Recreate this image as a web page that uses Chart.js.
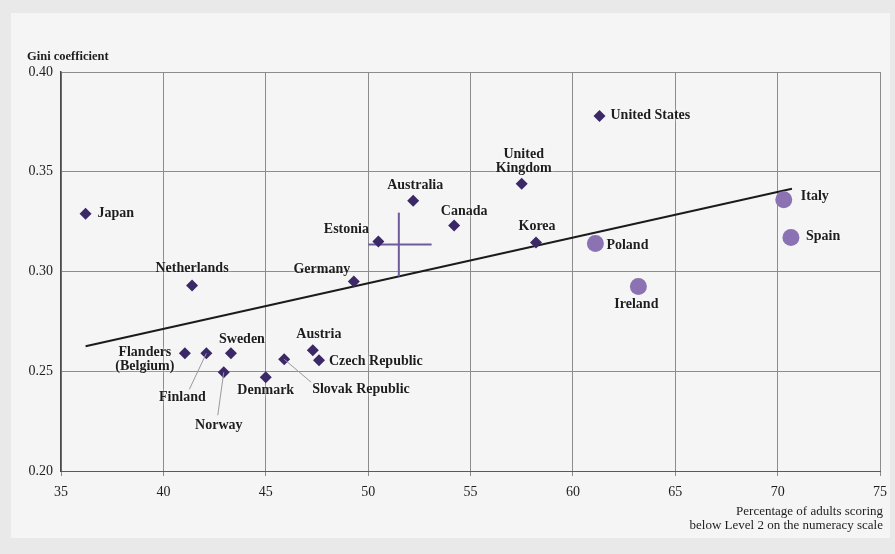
<!DOCTYPE html>
<html>
<head>
<meta charset="utf-8">
<script src="https://cdn.jsdelivr.net/npm/chart.js@4/dist/chart.umd.min.js"></script>
<style>
  html, body { margin: 0; padding: 0; background: #e9e9e9; }
  #wrap { width: 895px; height: 554px; }
</style>
</head>
<body>
<div id="wrap"><canvas id="c" width="895" height="554"></canvas></div>
<script>
// Share of adults below Level 2 in numeracy (%) vs. Gini coefficient
const diamondCountries = ['Japan', 'Netherlands', 'Flanders (Belgium)', 'Finland', 'Sweden', 'Norway',
  'Denmark', 'Slovak Republic', 'Austria', 'Czech Republic', 'Germany', 'Estonia', 'Australia',
  'Canada', 'United Kingdom', 'Korea', 'United States'];
const diamondX = [36.2, 41.4, 41.05, 42.1, 43.3, 42.95, 45.0, 45.9, 47.3, 47.6, 49.3, 50.5, 52.2, 54.2, 57.5, 58.2, 61.3];
const diamondY = [0.329, 0.293, 0.259, 0.259, 0.259, 0.2495, 0.247, 0.256, 0.2605, 0.2555, 0.295, 0.315, 0.3355, 0.323, 0.344, 0.3145, 0.378];

const circleCountries = ['Poland', 'Ireland', 'Italy', 'Spain'];
const circleX = [61.1, 63.2, 70.3, 70.65];
const circleY = [0.314, 0.2925, 0.336, 0.317];

// fitted trend line end points
const trendX = [36.2, 70.7];
const trendY = [0.2625, 0.3415];

// average marker: centre and extent of the two bars
const avgX = 51.5, avgY = 0.3135;
const avgXRange = [50.0, 53.1];
const avgYRange = [0.2975, 0.3295];

const xTicks = [35, 40, 45, 50, 55, 60, 65, 70, 75];
const yTicks = [0.20, 0.25, 0.30, 0.35, 0.40];

// label placement relative to each marker (pixels)
const labelLayout = {
  'Japan':              { dx: 12,  dy: 0,   align: 'left' },
  'Netherlands':        { dx: 0,   dy: -17, align: 'center' },
  'Flanders (Belgium)': { dx: -40, dy: -1,  align: 'center', lines: ['Flanders', '(Belgium)'] },
  'Finland':            { dx: -24, dy: 44,  align: 'center', leader: [-17, 36] },
  'Sweden':             { dx: 11,  dy: -14, align: 'center' },
  'Norway':             { dx: -5,  dy: 53,  align: 'center', leader: [-6, 43] },
  'Denmark':            { dx: 0,   dy: 13,  align: 'center' },
  'Slovak Republic':    { dx: 28,  dy: 30,  align: 'left', leader: [27, 23] },
  'Austria':            { dx: 6,   dy: -16, align: 'center' },
  'Czech Republic':     { dx: 10,  dy: 1,   align: 'left' },
  'Germany':            { dx: -32, dy: -12, align: 'center' },
  'Estonia':            { dx: -32, dy: -12, align: 'center' },
  'Australia':          { dx: 2,   dy: -15, align: 'center' },
  'Canada':             { dx: 10,  dy: -14, align: 'center' },
  'United Kingdom':     { dx: 2,   dy: -29, align: 'center', lines: ['United', 'Kingdom'] },
  'Korea':              { dx: 1,   dy: -16, align: 'center' },
  'United States':      { dx: 11,  dy: 0,   align: 'left' },
  'Poland':             { dx: 11,  dy: 2,   align: 'left' },
  'Ireland':            { dx: -2,  dy: 18,  align: 'center' },
  'Italy':              { dx: 17,  dy: -3,  align: 'left' },
  'Spain':              { dx: 15,  dy: -1,  align: 'left' }
};

const SERIF = '"Liberation Serif", "DejaVu Serif", serif';
const DARK = '#3b2866';
const LIGHT = '#8b72b3';

const zip = (xs, ys) => xs.map((x, i) => ({ x, y: ys[i] }));

const backgroundPlugin = {
  id: 'panel',
  beforeDraw(chart) {
    const ctx = chart.ctx;
    ctx.save();
    ctx.fillStyle = '#e9e9e9';
    ctx.fillRect(0, 0, chart.width, chart.height);
    ctx.fillStyle = '#f5f5f5';
    ctx.fillRect(11, 13, chart.width - 16, 525);
    ctx.restore();
  }
};

const textPlugin = {
  id: 'texts',
  afterDatasetsDraw(chart) {
    const ctx = chart.ctx;
    ctx.save();
    // leader lines
    [[0, diamondCountries], [1, circleCountries]].forEach(([di, names]) => {
      const meta = chart.getDatasetMeta(di);
      names.forEach((name, i) => {
        const L = labelLayout[name];
        if (!L || !L.leader) return;
        const p = meta.data[i];
        ctx.strokeStyle = '#9a9a9a';
        ctx.lineWidth = 1;
        ctx.beginPath();
        ctx.moveTo(p.x, p.y);
        ctx.lineTo(p.x + L.leader[0], p.y + L.leader[1]);
        ctx.stroke();
      });
    });
    // point labels
    ctx.font = 'bold 14px ' + SERIF;
    ctx.textBaseline = 'middle';
    ctx.fillStyle = '#1e1e1e';
    ctx.shadowColor = 'rgba(255,255,255,0.95)';
    ctx.shadowBlur = 5;
    [[0, diamondCountries], [1, circleCountries]].forEach(([di, names]) => {
      const meta = chart.getDatasetMeta(di);
      names.forEach((name, i) => {
        const L = labelLayout[name];
        const p = meta.data[i];
        const lines = L.lines || [name];
        ctx.textAlign = L.align;
        lines.forEach((t, k) => ctx.fillText(t, p.x + L.dx, p.y + L.dy + k * 14));
      });
    });
    ctx.shadowBlur = 0;
    // axis captions
    const a = chart.chartArea;
    ctx.fillStyle = '#1e1e1e';
    ctx.font = 'bold 12.5px ' + SERIF;
    ctx.textAlign = 'left';
    ctx.fillText('Gini coefficient', 27, 57);
    ctx.font = '13px ' + SERIF;
    ctx.textAlign = 'right';
    ctx.fillText('Percentage of adults scoring', a.right + 3, 512);
    ctx.fillText('below Level 2 on the numeracy scale', a.right + 3, 526);
    ctx.restore();
  }
};

new Chart(document.getElementById('c'), {
  type: 'scatter',
  data: {
    datasets: [
      {
        label: 'countries',
        data: zip(diamondX, diamondY),
        pointStyle: 'rectRot',
        pointRadius: 6,
        backgroundColor: DARK,
        borderColor: DARK,
        borderWidth: 0,
        order: 0
      },
      {
        label: 'countries (circle)',
        data: zip(circleX, circleY),
        pointStyle: 'circle',
        pointRadius: 8.5,
        backgroundColor: LIGHT,
        borderColor: LIGHT,
        borderWidth: 0,
        order: 0
      },
      {
        label: 'trend',
        type: 'line',
        data: zip(trendX, trendY),
        borderColor: '#1b1b1b',
        borderWidth: 2,
        pointRadius: 0,
        fill: false,
        order: 2
      },
      {
        label: 'average (x range)',
        type: 'line',
        data: zip(avgXRange, [avgY, avgY]),
        borderColor: '#6f5a9c',
        borderWidth: 2,
        pointRadius: 0,
        fill: false,
        order: 1
      },
      {
        label: 'average (y range)',
        type: 'line',
        data: zip([avgX, avgX], avgYRange),
        borderColor: '#6f5a9c',
        borderWidth: 2,
        pointRadius: 0,
        fill: false,
        order: 1
      }
    ]
  },
  options: {
    responsive: false,
    animation: false,
    devicePixelRatio: 1,
    layout: { padding: { top: 72, right: 14, left: 0, bottom: 0 } },
    plugins: { legend: { display: false }, tooltip: { enabled: false } },
    scales: {
      x: {
        type: 'linear',
        min: xTicks[0],
        max: xTicks[xTicks.length - 1],
        afterBuildTicks: s => { s.ticks = xTicks.map(v => ({ value: v })); },
        afterFit: s => { s.height = 83; },
        ticks: {
          font: { family: SERIF, size: 14 },
          color: '#1e1e1e',
          padding: 8
        },
        grid: { color: '#8c8c8c', lineWidth: 1, tickLength: 5 },
        border: { display: true, color: '#5a5a5a', width: 1 }
      },
      y: {
        type: 'linear',
        min: yTicks[0],
        max: yTicks[yTicks.length - 1],
        afterBuildTicks: s => { s.ticks = yTicks.map(v => ({ value: v })); },
        afterFit: s => { s.width = 61; },
        ticks: {
          font: { family: SERIF, size: 14 },
          color: '#1e1e1e',
          padding: 8,
          callback: v => v.toFixed(2)
        },
        grid: { color: '#8c8c8c', lineWidth: 1, drawTicks: false },
        border: { display: true, color: '#4a4a4a', width: 1.5 }
      }
    }
  },
  plugins: [backgroundPlugin, textPlugin]
});
</script>
</body>
</html>
